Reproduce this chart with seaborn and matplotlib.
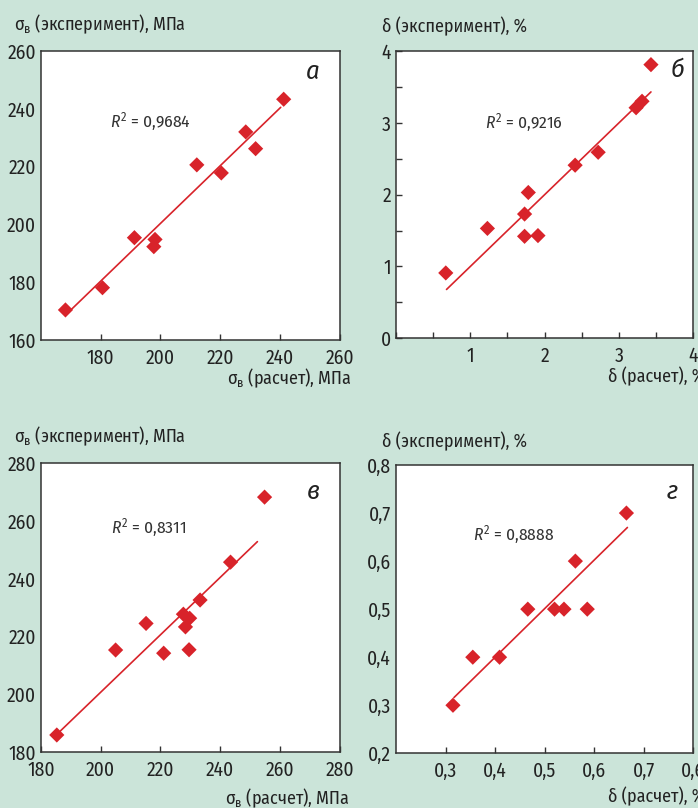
import numpy as np
import pandas as pd
import matplotlib
matplotlib.use("Agg")
import matplotlib.pyplot as plt
from matplotlib import font_manager
from matplotlib.ft2font import FT2Font
from matplotlib.ticker import MultipleLocator, FixedLocator, FixedFormatter
import seaborn as sns

# --- data ---
a_calc = [168.2, 180.6, 191.3, 198.2, 197.8, 212.2, 220.4, 228.6, 231.9, 241.3]
a_exp = [170.4, 178.1, 195.4, 194.8, 192.3, 220.6, 217.8, 232.0, 226.2, 243.3]
a_line_x = [168.8, 240.3]
a_line_y = [169.2, 240.5]

b_calc = [0.67, 1.23, 1.73, 1.78, 1.73, 1.91, 2.41, 2.72, 3.23, 3.31, 3.43]
b_exp = [0.91, 1.53, 1.73, 2.03, 1.42, 1.43, 2.41, 2.59, 3.21, 3.30, 3.81]
b_line_x = [0.68, 3.43]
b_line_y = [0.68, 3.43]

c_calc = [185.3, 205.0, 215.2, 221.1, 227.7, 228.4, 229.8, 229.6, 233.3, 243.5, 254.9]
c_exp = [186.0, 215.4, 224.6, 214.3, 227.8, 223.4, 226.4, 215.5, 232.7, 245.8, 268.3]
c_line_x = [185.3, 252.5]
c_line_y = [186.2, 252.9]

d_calc = [0.315, 0.355, 0.409, 0.466, 0.520, 0.539, 0.586, 0.562, 0.665]
d_exp = [0.30, 0.40, 0.40, 0.50, 0.50, 0.50, 0.50, 0.60, 0.70]
d_line_x = [0.317, 0.667]
d_line_y = [0.316, 0.670]

r2 = ["0,9684", "0,9216", "0,8311", "0,8888"]
letters = ["а", "б", "в", "г"]

bg = "#cbe4d9"
red = "#d8232a"
dark = "#333333"


# the original uses a condensed face; pick a narrow one that has Cyrillic
def has_glyphs(path, chars="эσδМП"):
    try:
        ft = FT2Font(path)
        return all(ft.get_char_index(ord(c)) != 0 for c in chars)
    except Exception:
        return False


narrow = sorted({f.name for f in font_manager.fontManager.ttflist
                 if ("Narrow" in f.name or "Condensed" in f.name)
                 and f.style == "normal" and has_glyphs(f.fname)})
fam = narrow[0] if narrow else "Roboto"
condensed = bool(narrow)

sns.set_style("ticks")
plt.rcParams["font.family"] = [fam, "DejaVu Sans"]
plt.rcParams["mathtext.fontset"] = "custom"
plt.rcParams["mathtext.rm"] = fam
plt.rcParams["mathtext.it"] = fam + ":italic"

fs_tick = 14 if condensed else 12
fs_lab = 13 if condensed else 11.5

fig = plt.figure(figsize=(6.98, 8.08), dpi=100, facecolor=bg)
positions = [
    [0.0587, 0.5792, 0.4277, 0.3577],
    [0.5673, 0.5813, 0.4260, 0.3556],
    [0.0587, 0.0689, 0.4277, 0.3577],
    [0.5673, 0.0677, 0.4260, 0.3568],
]
sig_exp = r"σ$_\mathregular{в}$ (эксперимент), МПа"
sig_calc = r"σ$_\mathregular{в}$ (расчет), МПа"
del_exp = "δ (эксперимент), %"
del_calc = "δ (расчет), %"

panels = [
    (a_calc, a_exp, a_line_x, a_line_y, sig_calc, sig_exp),
    (b_calc, b_exp, b_line_x, b_line_y, del_calc, del_exp),
    (c_calc, c_exp, c_line_x, c_line_y, sig_calc, sig_exp),
    (d_calc, d_exp, d_line_x, d_line_y, del_calc, del_exp),
]
r2_pos = [(0.231, 0.754), (0.30, 0.749), (0.235, 0.776), (0.26, 0.757)]
let_pos = [(0.911, 0.927), (0.946, 0.934), (0.913, 0.90), (0.93, 0.906)]
ylab_pos = [(-0.09, 1.073), (-0.047, 1.066), (-0.09, 1.074), (-0.047, 1.062)]
xlab_pos = [(1.042, -0.093), (1.04, -0.10), (1.033, -0.117), (1.04, -0.117)]

axes = []
for i, (xs, ys, lx, ly, xl, yl) in enumerate(panels):
    ax = fig.add_axes(positions[i])
    ax.set_facecolor("white")
    df = pd.DataFrame({"calc": xs, "exp": ys})
    ln = pd.DataFrame({"x": lx, "y": ly})
    sns.lineplot(data=ln, x="x", y="y", ax=ax, color=red, linewidth=1.2)
    sns.scatterplot(data=df, x="calc", y="exp", ax=ax, color=red, marker="D",
                    s=60, edgecolor="none", zorder=3)
    ax.set_xlabel("")
    ax.set_ylabel("")
    for sp in ax.spines.values():
        sp.set_visible(True)
        sp.set_color(dark)
        sp.set_linewidth(1.1)
    ax.tick_params(direction="in", length=4, width=1, color=dark,
                   labelsize=fs_tick, labelcolor="#222222")
    ax.tick_params(axis="x", pad=6)
    ax.tick_params(axis="y", pad=3.5)
    ax.tick_params(which="minor", direction="in", length=4, width=1, color=dark)
    ax.text(*ylab_pos[i], yl, transform=ax.transAxes, ha="left", va="baseline",
            fontsize=fs_lab, color="#222222")
    ax.text(*xlab_pos[i], xl, transform=ax.transAxes, ha="right", va="top",
            fontsize=fs_lab, color="#222222", clip_on=False)
    ax.text(*r2_pos[i], r"$\mathit{R}^{2}$ = " + r2[i], transform=ax.transAxes,
            ha="left", va="center", fontsize=fs_lab - 0.5, color="#333333")
    ax.text(*let_pos[i], letters[i], transform=ax.transAxes, ha="center",
            va="center", fontsize=19, style="italic", color="#222222")
    axes.append(ax)

ax = axes[0]
ax.set_xlim(160, 260)
ax.set_ylim(160, 260)
ax.xaxis.set_major_locator(FixedLocator([180, 200, 220, 240, 260]))
ax.yaxis.set_major_locator(FixedLocator([160, 180, 200, 220, 240, 260]))
ax.tick_params(axis="y", length=0)

ax = axes[1]
ax.set_xlim(0, 4)
ax.set_ylim(0, 4)
ax.xaxis.set_major_locator(FixedLocator([1, 2, 3, 4]))
ax.yaxis.set_major_locator(FixedLocator([0, 1, 2, 3, 4]))
ax.xaxis.set_minor_locator(MultipleLocator(0.5))
ax.yaxis.set_minor_locator(MultipleLocator(0.5))

ax = axes[2]
ax.set_xlim(180, 280)
ax.set_ylim(180, 280)
ax.xaxis.set_major_locator(FixedLocator([180, 200, 220, 240, 260, 280]))
ax.yaxis.set_major_locator(FixedLocator([180, 200, 220, 240, 260, 280]))
ax.tick_params(axis="y", length=0)

ax = axes[3]
ax.set_xlim(0.2, 0.8)
ax.set_ylim(0.2, 0.8)
d_xticks = [0.3, 0.4, 0.5, 0.6, 0.7, 0.8]
d_xlabels = ["0,3", "0,4", "0,5", "0,6", "0,7", "0,6"]
d_yticks = [0.2, 0.3, 0.4, 0.5, 0.6, 0.7, 0.8]
ax.xaxis.set_major_locator(FixedLocator(d_xticks))
ax.xaxis.set_major_formatter(FixedFormatter(d_xlabels))
ax.yaxis.set_major_locator(FixedLocator(d_yticks))
ax.yaxis.set_major_formatter(FixedFormatter([f"{v:.1f}".replace(".", ",") for v in d_yticks]))
ax.tick_params(axis="y", length=0)

fig.savefig("out.png", dpi=100, facecolor=bg)
